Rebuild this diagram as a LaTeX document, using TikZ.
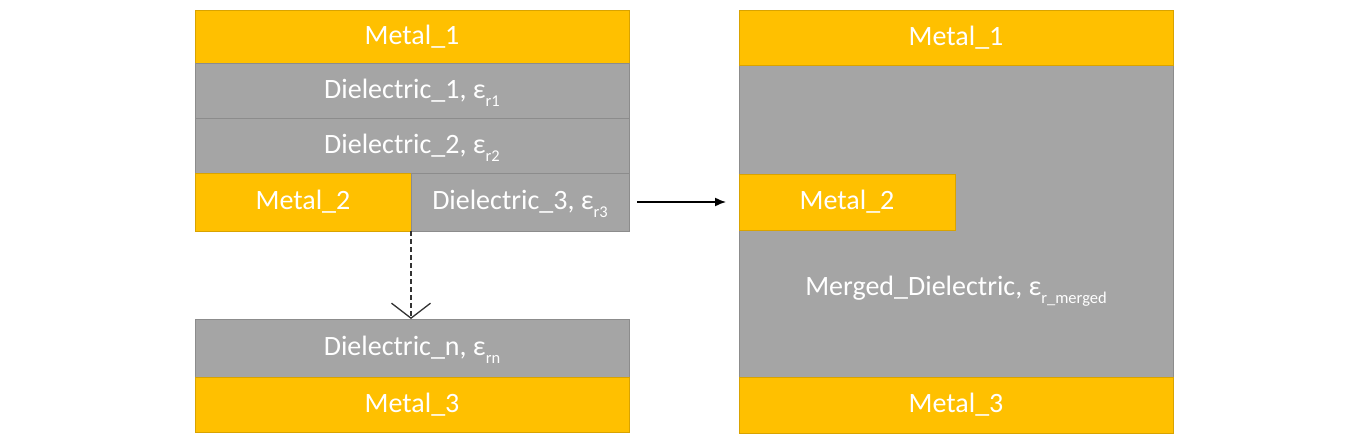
\documentclass[tikz,border=0pt]{standalone}
\usepackage{fontspec}
\setmainfont{Carlito}
\usetikzlibrary{arrows.meta}
\definecolor{metal}{HTML}{FFC000}
\definecolor{metalb}{HTML}{D9A300}
\definecolor{diel}{HTML}{A5A5A5}
\definecolor{dielb}{HTML}{8C8C8C}
\newcommand\epsub[1]{ε\raisebox{-8pt}[0pt][0pt]{\fontsize{16.5}{18}\selectfont #1}}
\begin{document}
\begin{tikzpicture}[x=1pt,y=-1pt,
  layer/.style={anchor=north west, inner sep=0pt, outer sep=0pt, text=white,
    font=\fontsize{28}{32}\selectfont, line width=0.8pt},
  metallayer/.style={layer, fill=metal, draw=metalb},
  diellayer/.style={layer, fill=diel, draw=dielb},
  txt/.style={inner sep=0pt, text=white, font=\fontsize{28}{32}\selectfont},
]
\useasboundingbox (0,0) rectangle (1365,445);
% left stack
\node[metallayer, minimum width=434pt, minimum height=53pt] (m1) at (195,10) {Metal\_1};
\node[diellayer, minimum width=434pt, minimum height=55pt] (d1) at (195,63) {Dielectric\_1, \epsub{r1}};
\node[diellayer, minimum width=434pt, minimum height=55pt] (d2) at (195,118) {Dielectric\_2, \epsub{r2}};
\node[metallayer, minimum width=216pt, minimum height=58pt] (m2) at (195,173) {Metal\_2};
\node[diellayer, minimum width=218pt, minimum height=58pt] (d3) at (411,173) {Dielectric\_3, \epsub{r3}};
% lower left stack
\node[diellayer, minimum width=434pt, minimum height=58pt] (dn) at (195,319) {Dielectric\_n, \epsub{rn}};
\node[metallayer, minimum width=434pt, minimum height=55pt] (m3) at (195,377) {Metal\_3};
% right stack
\node[diellayer, minimum width=434pt, minimum height=312pt] (md) at (739,65) {};
\node[metallayer, minimum width=434pt, minimum height=55pt] (m1r) at (739,10) {Metal\_1};
\node[metallayer, minimum width=216pt, minimum height=56pt] (m2r) at (739,174) {Metal\_2};
\node[metallayer, minimum width=434pt, minimum height=56pt] (m3r) at (739,377) {Metal\_3};
\node[txt] (mdl) at (956,288) {Merged\_Dielectric, \epsub{r\_merged}};
% connectors
\draw[line width=1.5pt, -{Latex[length=11pt,width=9pt]}, shorten <=8pt, shorten >=13pt]
  (d3.east) -- (m2r.west);
\draw[line width=1.3pt, draw=black!80, dash pattern=on 5pt off 3pt,
  -{Straight Barb[length=15pt,width=39pt]}]
  (m2.south east) -- (m2.south east |- dn.north);
\end{tikzpicture}
\end{document}
